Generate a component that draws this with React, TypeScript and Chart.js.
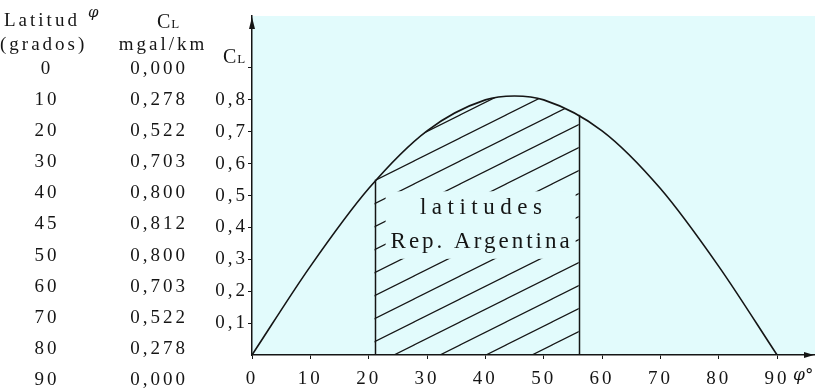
import { useEffect, useRef } from 'react';
import { Chart, registerables } from 'chart.js';

Chart.register(...registerables);

// ---- data ----
const latitudes = [0, 10, 20, 30, 40, 45, 50, 60, 70, 80, 90];
const clValues = [0.0, 0.278, 0.522, 0.703, 0.8, 0.812, 0.8, 0.703, 0.522, 0.278, 0.0];
const xTickValues = [0, 10, 20, 30, 40, 50, 60, 70, 80, 90];
const yTickValues = [0.1, 0.2, 0.3, 0.4, 0.5, 0.6, 0.7, 0.8];
const yUnlabeledTicks = [0.9];
const argentinaLat = [21, 56];
const argentinaCl = [0.55, 0.753];
const regionLabel = ['latitudes', 'Rep. Argentina'];
const tableHeaderTop = ['Latitud', 'C'];
const tableHeaderBottom = ['(grados)', 'mgal/km'];

const INK = '#151515';
const BG = '#e2fbfc';
const FONT = '"Liberation Serif", "DejaVu Serif", serif';
const SERIF = '"DejaVu Serif", serif';

const fmt = (v: number, d: number) => v.toFixed(d).replace('.', ',');

function drawCL(ctx: CanvasRenderingContext2D, x: number, baseline: number) {
  ctx.save();
  ctx.textAlign = 'left';
  ctx.textBaseline = 'alphabetic';
  ctx.font = `20px ${FONT}`;
  ctx.letterSpacing = '0px';
  ctx.fillText('C', x, baseline);
  const w = ctx.measureText('C').width;
  ctx.font = `13px ${FONT}`;
  ctx.fillText('L', x + w + 1, baseline);
  ctx.restore();
}

export default function App() {
  const ref = useRef<HTMLCanvasElement>(null);

  useEffect(() => {
    const canvas = ref.current!;
    const tile = document.createElement('canvas');
    tile.width = 46;
    tile.height = 23;
    const t = tile.getContext('2d')!;
    t.strokeStyle = INK;
    t.lineWidth = 1.2;
    for (const off of [-23, 0, 23]) {
      t.beginPath();
      t.moveTo(-46, 46 + off);
      t.lineTo(92, -23 + off);
      t.stroke();
    }
    const ctx0 = canvas.getContext('2d')!;
    ctx0.letterSpacing = '3px';
    const pattern = ctx0.createPattern(tile, 'repeat')!;

    const decor = {
      id: 'decor',
      beforeDraw(chart: any) {
        const { ctx, chartArea: a } = chart;
        ctx.letterSpacing = '3px';
        ctx.save();
        ctx.fillStyle = BG;
        ctx.fillRect(a.left, a.top, a.right - a.left, a.bottom - a.top);
        ctx.restore();
      },
      beforeDatasetDraw(chart: any, args: any) {
        if (args.index !== 0) return;
        const { ctx, chartArea: a, scales } = chart;
        const x1 = scales.x.getPixelForValue(argentinaLat[0]);
        const x2 = scales.x.getPixelForValue(argentinaLat[1]);
        ctx.save();
        ctx.fillStyle = BG;
        ctx.fillRect(a.left + 1, a.top, x1 - a.left - 1, a.bottom - a.top - 1);
        ctx.fillRect(x2, a.top, a.right - x2, a.bottom - a.top - 1);
        ctx.restore();
      },
      afterDatasetsDraw(chart: any) {
        const { ctx, chartArea: a, scales } = chart;
        const xs = scales.x;
        const ys = scales.y;
        ctx.save();
        ctx.strokeStyle = INK;
        ctx.lineWidth = 1.5;
        argentinaLat.forEach((lat, i) => {
          const px = Math.round(xs.getPixelForValue(lat)) + 0.5;
          ctx.beginPath();
          ctx.moveTo(px, a.bottom);
          ctx.lineTo(px, ys.getPixelForValue(argentinaCl[i]));
          ctx.stroke();
        });
        // label box
        const cx = xs.getPixelForValue((argentinaLat[0] + argentinaLat[1]) / 2) + 4;
        const y1 = ys.getPixelForValue(0.46);
        const y2 = ys.getPixelForValue(0.355);
        ctx.fillStyle = BG;
        ctx.fillRect(cx - 95, y1 - 17, 190, y2 - y1 + 34);
        ctx.fillStyle = INK;
        ctx.font = `23px ${FONT}`;
        ctx.textAlign = 'center';
        ctx.textBaseline = 'middle';
        ctx.letterSpacing = '5.5px';
        ctx.fillText(regionLabel[0], cx + 3, y1);
        ctx.letterSpacing = '3px';
        ctx.fillText(regionLabel[1], cx + 1, y2);
        // axis arrows
        ctx.beginPath();
        ctx.moveTo(a.left, a.top + 1);
        ctx.lineTo(a.left - 3, a.top + 13);
        ctx.lineTo(a.left + 3, a.top + 13);
        ctx.closePath();
        ctx.fill();
        ctx.beginPath();
        ctx.moveTo(a.right - 1, a.bottom);
        ctx.lineTo(a.right - 11, a.bottom - 3);
        ctx.lineTo(a.right - 11, a.bottom + 3);
        ctx.closePath();
        ctx.fill();
        ctx.restore();
      },
      afterDraw(chart: any) {
        const { ctx, chartArea: a } = chart;
        ctx.save();
        ctx.fillStyle = INK;
        // y-axis title
        drawCL(ctx, a.left - 29, 63);
        // x-axis phi
        ctx.font = `italic 17px ${SERIF}`;
        ctx.letterSpacing = '0px';
        ctx.textAlign = 'left';
        ctx.textBaseline = 'middle';
        ctx.fillText('φ°', a.right - 22, 376);
        // table
        ctx.font = `19px ${FONT}`;
        ctx.letterSpacing = '3px';
        ctx.textBaseline = 'middle';
        ctx.textAlign = 'left';
        ctx.fillText(tableHeaderTop[0], 4, 21);
        ctx.fillText(tableHeaderBottom[0], 0, 45);
        ctx.textAlign = 'center';
        ctx.fillText(tableHeaderBottom[1], 163, 45);
        ctx.font = `italic 15px ${SERIF}`;
        ctx.letterSpacing = '0px';
        ctx.textAlign = 'left';
        ctx.fillText('φ', 88, 13);
        drawCL(ctx, 157, 28);
        ctx.font = `19px ${FONT}`;
        ctx.letterSpacing = '3px';
        ctx.textAlign = 'center';
        latitudes.forEach((lat, i) => {
          const y = 69 + i * 31.1;
          ctx.fillText(String(lat), 47, y);
          ctx.fillText(fmt(clValues[i], 3), 159, y);
        });
        ctx.restore();
      },
    };

    const chart = new Chart(canvas, {
      type: 'line',
      data: {
        datasets: [
          {
            data: latitudes.map((x, i) => ({ x, y: clValues[i] })),
            borderColor: INK,
            borderWidth: 1.6,
            pointRadius: 0,
            cubicInterpolationMode: 'monotone',
            fill: 'origin',
            backgroundColor: pattern as any,
          },
        ],
      },
      options: {
        responsive: false,
        animation: false,
        devicePixelRatio: 1,
        layout: { padding: { left: 0, right: 0, top: 16, bottom: 0 } },
        plugins: { legend: { display: false }, tooltip: { enabled: false } },
        scales: {
          x: {
            type: 'linear',
            min: 0,
            max: 96.5,
            afterBuildTicks: (s: any) => {
              s.ticks = xTickValues.map((v) => ({ value: v }));
            },
            afterFit: (s: any) => {
              s.height = 35;
            },
            grid: { drawOnChartArea: false, drawTicks: true, tickLength: 4, color: INK, lineWidth: 1 },
            border: { display: true, color: INK, width: 1.5 },
            ticks: {
              color: INK,
              font: { family: FONT, size: 19 },
              padding: 9,
              maxRotation: 0,
              autoSkip: false,
              callback: (v: any) => String(v),
            },
          },
          y: {
            type: 'linear',
            min: 0,
            max: 1.063,
            afterBuildTicks: (s: any) => {
              s.ticks = [...yTickValues, ...yUnlabeledTicks].map((v) => ({ value: v }));
            },
            afterFit: (s: any) => {
              s.width = 252;
            },
            grid: { drawOnChartArea: false, drawTicks: true, tickLength: 4, color: INK, lineWidth: 1 },
            border: { display: true, color: INK, width: 1.5 },
            ticks: {
              color: INK,
              font: { family: FONT, size: 19 },
              padding: 0,
              autoSkip: false,
              callback: (v: any) => (yTickValues.includes(v) ? fmt(v, 1) : ''),
            },
          },
        },
      },
      plugins: [decor],
    } as any);

    return () => chart.destroy();
  }, []);

  return (
    <div style={{ position: 'absolute', left: 0, top: 0, width: 815, height: 390, background: '#fff' }}>
      <canvas ref={ref} width={815} height={390} style={{ display: 'block', width: 815, height: 390 }} />
    </div>
  );
}
